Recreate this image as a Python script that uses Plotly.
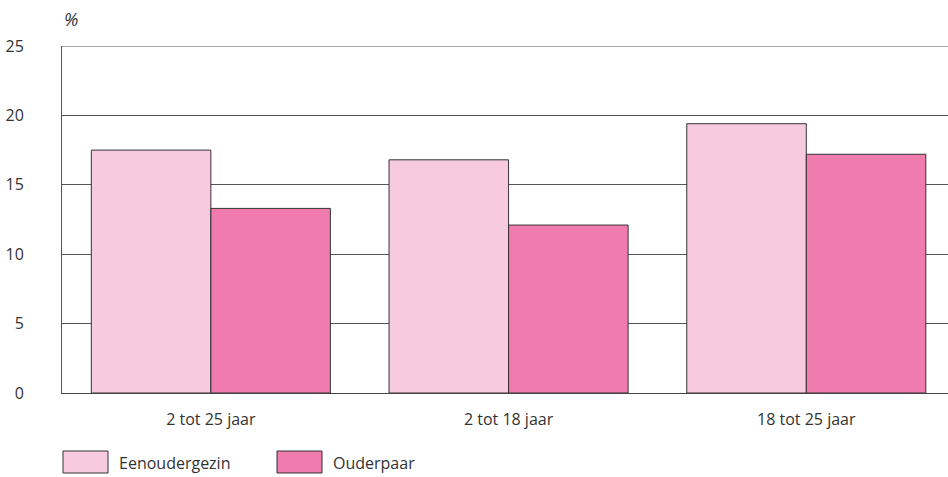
import plotly.graph_objects as go

categories = ["2 tot 25 jaar", "2 tot 18 jaar", "18 tot 25 jaar"]
series_names = ["Eenoudergezin", "Ouderpaar"]
eenoudergezin = [17.5, 16.8, 19.4]
ouderpaar = [13.3, 12.1, 17.2]
y_ticks = [0, 5, 10, 15, 20, 25]

colors = ["#F7CADF", "#EF7BAF"]
FONT = "Open Sans"
W, H = 948, 477
L, R, T, B = 62, 0, 46, 84

fig = go.Figure()
for name, vals, col in zip(series_names, [eenoudergezin, ouderpaar], colors):
    fig.add_trace(go.Bar(
        x=categories, y=vals, name=name,
        marker=dict(color=col, line=dict(color="#333333", width=1)),
        showlegend=False,
    ))

fig.update_layout(
    width=W, height=H,
    margin=dict(l=L, r=R, t=T, b=B),
    paper_bgcolor="white", plot_bgcolor="white",
    barmode="group", bargap=0.197, bargroupgap=0,
    font=dict(family=FONT, size=16, color="#333333"),
    xaxis=dict(
        showgrid=False, showline=True, linecolor="#444444", linewidth=1,
        ticks="", tickfont=dict(size=16), ticklabelstandoff=12,
        range=[-0.5, 2.476],
    ),
    yaxis=dict(
        range=[0, 25], tickvals=y_ticks, showgrid=True,
        gridcolor="#555555", gridwidth=1,
        showline=True, linecolor="#555555", linewidth=1,
        ticks="", tickfont=dict(size=16), ticklabelstandoff=34,
        zeroline=False,
    ),
    annotations=[
        dict(text="<i>%</i>", xref="paper", yref="paper", x=0, y=1, xanchor="left",
             yanchor="bottom", yshift=13, showarrow=False,
             font=dict(size=18, color="#333333")),
    ],
)

# top gridline lighter
fig.add_shape(type="line", xref="paper", yref="y", x0=0, x1=1, y0=25, y1=25,
              line=dict(color="#888888", width=1.5), layer="above")

# custom legend
pw = W - L - R
ph = H - T - B
def px_to_paper(x, y):
    return (x - L) / pw, (H - B - y) / ph

legend_x = [63, 277]
for name, col, lx in zip(series_names, colors, legend_x):
    x0, y0 = px_to_paper(lx, 451)
    x1, y1 = px_to_paper(lx + 45, 473)
    fig.add_shape(type="rect", xref="paper", yref="paper", x0=x0, x1=x1,
                  y0=y1, y1=y0, fillcolor=col,
                  line=dict(color="#333333", width=1))
    tx, ty = px_to_paper(lx + 54, 463)
    fig.add_annotation(text=name, xref="paper", yref="paper", x=tx, y=ty,
                       xanchor="left", yanchor="middle", showarrow=False,
                       font=dict(size=16, color="#333333"))

fig.write_html("out.html", config={"displayModeBar": False},
               post_script="document.body.style.margin='0';")
